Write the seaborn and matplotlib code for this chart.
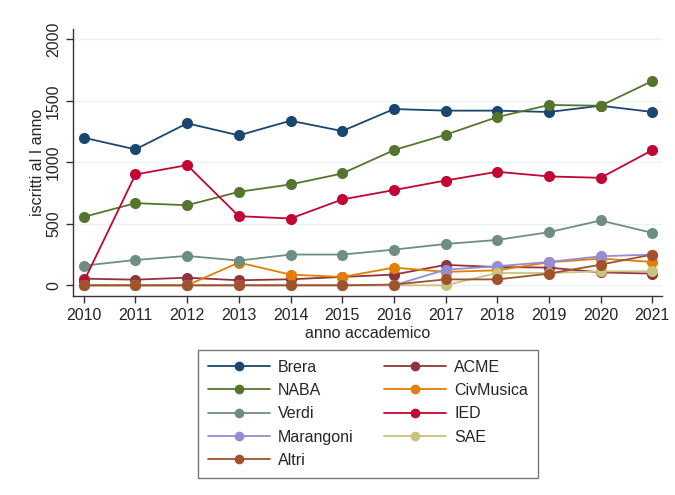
import numpy as np
import pandas as pd
import matplotlib
matplotlib.use("Agg")
import matplotlib.pyplot as plt
import seaborn as sns

years = list(range(2010, 2022))

# draw order (later on top), as in the original
series = ["Brera", "ACME", "NABA", "CivMusica", "Verdi", "IED", "Marangoni", "SAE", "Altri"]

brera     = [1200, 1105, 1317, 1219, 1338, 1254, 1433, 1420, 1420, 1409, 1460, 1409]
acme      = [54, 46, 62, 41, 49, 68, 87, 166, 149, 144, 105, 95]
naba      = [556, 668, 651, 760, 820, 909, 1099, 1224, 1368, 1466, 1460, 1661]
civmusica = [0, 0, 0, 185, 87, 68, 144, 109, 122, 187, 217, 190]
verdi     = [160, 206, 239, 201, 250, 250, 290, 336, 369, 432, 527, 426]
ied       = [30, 901, 977, 562, 543, 698, 774, 852, 923, 885, 874, 1099]
marangoni = [0, 0, 0, 0, 0, 0, 0, 127, 155, 190, 236, 250]
sae       = [0, 0, 0, 0, 0, 0, 0, 0, 100, 100, 114, 114]
altri     = [0, 0, 0, 0, 0, 0, 6, 48, 48, 95, 168, 250]

colors = ["#1a476f", "#90353b", "#55752f", "#e37e00", "#6e8e84",
          "#c10534", "#938dd2", "#cac27e", "#a0522d"]

values = [brera, acme, naba, civmusica, verdi, ied, marangoni, sae, altri]

df = pd.DataFrame({
    "anno": years * len(series),
    "iscritti": sum(values, []),
    "ateneo": sum([[s] * len(years) for s in series], []),
})

sns.set_style("white")
plt.rcParams["font.family"] = ["Liberation Sans", "DejaVu Sans"]

fig = plt.figure(figsize=(6.75, 4.95), dpi=100)
ax = fig.add_axes([0.108, 0.402, 0.873, 0.539])

for y in [0, 500, 1000, 1500, 2000]:
    ax.axhline(y, color="#eaf2f3", lw=1, zorder=0)

sns.lineplot(data=df, x="anno", y="iscritti", hue="ateneo", hue_order=series,
             palette=dict(zip(series, colors)), marker="o", markersize=8,
             markeredgewidth=0, linewidth=1.3, ax=ax, legend=False)

ax.set_xlim(2009.79, 2021.19)
ax.set_ylim(-87, 2082)
ax.set_xticks(years)
ax.set_yticks([0, 500, 1000, 1500, 2000])
ax.tick_params(axis="both", labelsize=11.5, length=5, width=1, color="#333333",
               direction="out", left=True, bottom=True)
plt.setp(ax.get_yticklabels(), rotation=90, va="center")
for s in ["top", "right"]:
    ax.spines[s].set_visible(False)
for s in ["left", "bottom"]:
    ax.spines[s].set_color("#333333")
    ax.spines[s].set_linewidth(1)

ax.set_xlabel("anno accademico", fontsize=11.5, labelpad=2)
ax.set_ylabel("iscritti al I anno", fontsize=11.5, labelpad=1)

# legend filled row by row, two columns
handles = {}
for s, c in zip(series, colors):
    handles[s] = plt.Line2D([], [], color=c, marker="o", markersize=7,
                            markeredgewidth=0, linewidth=1.3)
col1 = ["Brera", "NABA", "Verdi", "Marangoni", "Altri"]
col2 = ["ACME", "CivMusica", "IED", "SAE"]
order = col1 + col2
leg = fig.legend([handles[s] for s in order], order, loc="center",
                 bbox_to_anchor=(0.545, 0.164), ncol=2, fontsize=11.5,
                 frameon=True, fancybox=False, edgecolor="#555555",
                 handlelength=3.9, handletextpad=0.5, columnspacing=1.9,
                 labelspacing=0.52, borderpad=0.6)
leg.get_frame().set_linewidth(1)

fig.savefig("out.png", dpi=100)
